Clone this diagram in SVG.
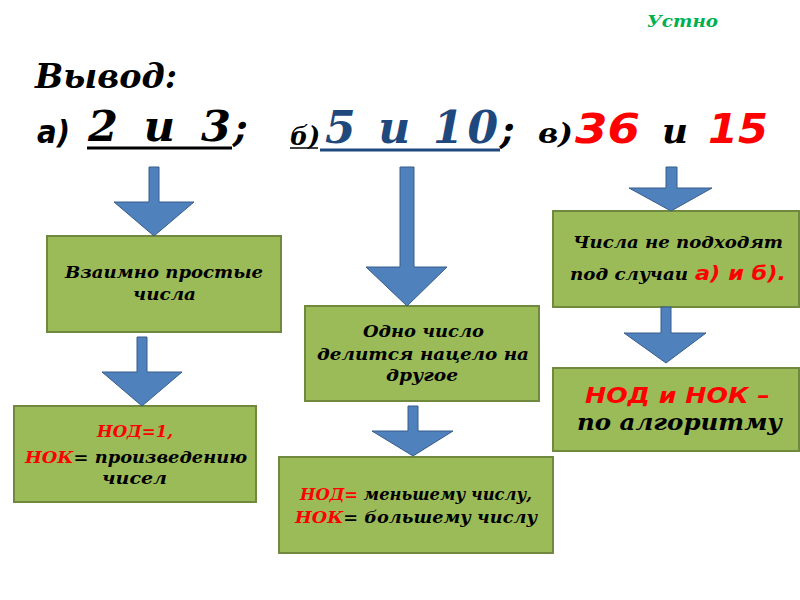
<svg xmlns="http://www.w3.org/2000/svg" width="800" height="600" viewBox="0 0 800 600">
<style>
.box{fill:#9bbb59;stroke:#71893f;stroke-width:2}
.arr{fill:#4f81bd;stroke:#385d8a;stroke-width:1}
.s{font-family:"DejaVu Serif","Liberation Serif",serif;font-weight:bold;font-style:italic}
.ss{font-family:"DejaVu Sans","Liberation Sans",sans-serif;font-weight:bold;font-style:italic}
.r{fill:#ff0000}
.k{fill:#000000}
.b{fill:#1f497d}
.g{fill:#00b050}
</style>
<rect width="800" height="600" fill="#ffffff"/>
<g id="header">
<text class="s g" x="647" y="27" font-size="17" textLength="71" lengthAdjust="spacingAndGlyphs">Устно</text>
<text class="s k" x="35" y="88" font-size="34" textLength="142" lengthAdjust="spacingAndGlyphs">Вывод:</text>
<text class="ss k" x="37" y="143" font-size="32" textLength="33" lengthAdjust="spacingAndGlyphs">а)</text>
<text class="s k" x="88" y="141" font-size="43" textLength="143" lengthAdjust="spacing">2 и 3</text>
<line x1="87" y1="148" x2="232" y2="148" stroke="#000" stroke-width="3"/>
<text class="s k" x="233" y="141" font-size="40">;</text>
<text class="s k" x="290" y="145" font-size="26" textLength="30" lengthAdjust="spacingAndGlyphs">б)</text>
<line x1="290" y1="148" x2="318" y2="148" stroke="#000" stroke-width="1.5"/>
<text class="s b" x="325" y="143" font-size="44" textLength="173" lengthAdjust="spacing">5 и 10</text>
<line x1="320" y1="150" x2="500" y2="150" stroke="#1f497d" stroke-width="3"/>
<text class="s k" x="500" y="143" font-size="40">;</text>
<text class="s k" x="538" y="143" font-size="28" textLength="35" lengthAdjust="spacingAndGlyphs">в)</text>
<text class="ss r" x="575" y="143" font-size="40" textLength="65" lengthAdjust="spacingAndGlyphs">36</text>
<text class="s k" x="662" y="143" font-size="36" textLength="26" lengthAdjust="spacingAndGlyphs">и</text>
<text class="ss r" x="708" y="143" font-size="40" textLength="60" lengthAdjust="spacingAndGlyphs">15</text>
</g>
<g id="n1">
<rect class="box" x="47" y="236" width="234" height="96"/>
<text class="s k" x="65" y="278" font-size="16" textLength="198" lengthAdjust="spacingAndGlyphs">Взаимно простые</text>
<text class="s k" x="133" y="300" font-size="16" textLength="63" lengthAdjust="spacingAndGlyphs">числа</text>
</g>
<g id="n2">
<rect class="box" x="14" y="406" width="242" height="96"/>
<text class="s r" x="97" y="437" font-size="16" textLength="76" lengthAdjust="spacingAndGlyphs">НОД=1,</text>
<text class="s k" x="25" y="463" font-size="16" textLength="222" lengthAdjust="spacingAndGlyphs"><tspan class="r">НОК</tspan>= произведению</text>
<text class="s k" x="102" y="484" font-size="16" textLength="65" lengthAdjust="spacingAndGlyphs">чисел</text>
</g>
<g id="n3">
<rect class="box" x="305" y="306" width="234" height="95"/>
<text class="s k" x="363" y="337" font-size="16" textLength="121" lengthAdjust="spacingAndGlyphs">Одно число</text>
<text class="s k" x="317" y="360" font-size="16" textLength="212" lengthAdjust="spacingAndGlyphs">делится нацело на</text>
<text class="s k" x="386" y="381" font-size="16" textLength="72" lengthAdjust="spacingAndGlyphs">другое</text>
</g>
<g id="n4">
<rect class="box" x="279" y="457" width="274" height="96"/>
<text class="s k" x="300" y="500" font-size="16" textLength="232" lengthAdjust="spacingAndGlyphs"><tspan class="r">НОД=</tspan> меньшему числу,</text>
<text class="s k" x="295" y="523" font-size="16" textLength="242" lengthAdjust="spacingAndGlyphs"><tspan class="r">НОК</tspan>= большему числу</text>
</g>
<g id="n5">
<rect class="box" x="553" y="211" width="246" height="96"/>
<text class="s k" x="573" y="248" font-size="16" textLength="210" lengthAdjust="spacingAndGlyphs">Числа не подходят</text>
<text class="s k" x="570" y="280" font-size="16" textLength="118" lengthAdjust="spacingAndGlyphs">под случаи</text>
<text class="ss r" x="695" y="280" font-size="20" textLength="91" lengthAdjust="spacingAndGlyphs">а) и б).</text>
</g>
<g id="n6">
<rect class="box" x="553" y="368" width="246" height="83"/>
<text class="ss r" x="585" y="403" font-size="22" textLength="185" lengthAdjust="spacingAndGlyphs">НОД и НОК –</text>
<text class="s k" x="577" y="430" font-size="22" textLength="205" lengthAdjust="spacingAndGlyphs">по алгоритму</text>
</g>
<g id="connectors">
<polygon class="arr" points="149,167 159,167 159,202 194,202 154,236 114,202 149,202"/>
<polygon class="arr" points="137,337 147,337 147,372 182,372 142,406 102,372 137,372"/>
<polygon class="arr" points="400,167 414,167 414,267 447,267 407,306 366,267 400,267"/>
<polygon class="arr" points="408,406 418,406 418,431 453,431 413,456 372,431 408,431"/>
<polygon class="arr" points="666,167 677,167 677,188 712,188 671,211 629,188 666,188"/>
<polygon class="arr" points="661,307 671,307 671,333 706,333 666,363 624,333 661,333"/>
</g>
</svg>
